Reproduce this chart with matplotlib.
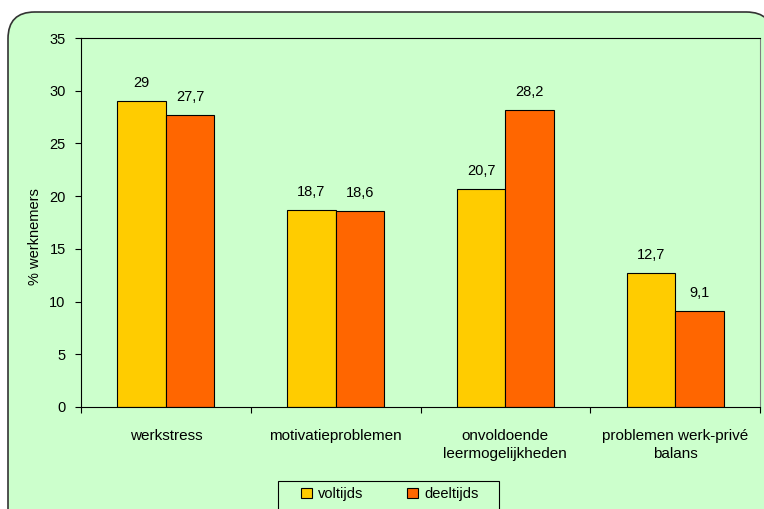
import numpy as np
import matplotlib.pyplot as plt
from matplotlib.patches import FancyBboxPatch, Rectangle

plt.rcParams['font.family'] = ['Liberation Sans', 'DejaVu Sans']

# gegevens
categorieen = ['werkstress', 'motivatieproblemen', 'onvoldoende\nleermogelijkheden',
               'problemen werk-privé\nbalans']
voltijds = [29, 18.7, 20.7, 12.7]
deeltijds = [27.7, 18.6, 28.2, 9.1]
labels_vol = ['29', '18,7', '20,7', '12,7']
labels_deel = ['27,7', '18,6', '28,2', '9,1']

groen = '#CCFFCC'
geel = '#FFCC00'
oranje = '#FF6600'
fs = 10.5

fig = plt.figure(figsize=(7.64, 5.09), dpi=100)
fig.patch.set_facecolor('white')

# afgeronde kader rond de grafiek (loopt rechts en onder door)
kader = FancyBboxPatch((8 / 764, -0.1), 773 / 764 - 8 / 764, 1 - 12 / 509 + 0.1,
                       boxstyle='round,pad=0,rounding_size=0.035',
                       transform=fig.transFigure, facecolor=groen,
                       edgecolor='#333333', linewidth=1.2, zorder=-10,
                       mutation_aspect=764 / 509)
fig.patches.append(kader)

ax = fig.add_axes([81 / 764, 1 - 407 / 509, 679 / 764, 369 / 509])
ax.set_facecolor(groen)

x = np.arange(len(categorieen))
w = 0.285
b1 = ax.bar(x - w / 2, voltijds, w, color=geel, edgecolor='black', linewidth=0.8,
            label='voltijds')
b2 = ax.bar(x + w / 2, deeltijds, w, color=oranje, edgecolor='black', linewidth=0.8,
            label='deeltijds')

for bars, teksten in [(b1, labels_vol), (b2, labels_deel)]:
    for rect, t in zip(bars, teksten):
        ax.annotate(t, (rect.get_x() + rect.get_width() / 2, rect.get_height()),
                    xytext=(0, 8), textcoords='offset points', ha='center',
                    va='bottom', fontsize=fs)

ax.set_xlim(-0.5, len(categorieen) - 0.5)
ax.set_ylim(0, 35)
ax.set_yticks(range(0, 36, 5))
ax.tick_params(axis='y', direction='out', length=4, labelsize=fs, pad=7)

# categorienamen tussen de streepjes
ax.set_xticks(np.arange(-0.5, len(categorieen), 1))
ax.set_xticklabels([])
ax.tick_params(axis='x', direction='out', length=4)
ax.set_xticks(x, minor=True)
ax.set_xticklabels(categorieen, minor=True, fontsize=11, linespacing=1.3)
ax.tick_params(axis='x', which='minor', length=0, pad=16)

ax.set_ylabel('% werknemers', fontsize=fs)
ax.yaxis.set_label_coords(-0.057, 0.463)

for s in ['left', 'bottom', 'top']:
    ax.spines[s].set_color('black')
ax.spines['right'].set_color('#808080')

# legendakader
fig.patches.append(Rectangle((278 / 764, -0.05), 221 / 764, 0.05 + 28 / 509,
                             transform=fig.transFigure, facecolor=groen,
                             edgecolor='black', linewidth=0.8, zorder=-5))
leg = fig.legend(loc='center', bbox_to_anchor=(390 / 764, 1 - 494 / 509), ncol=2,
                 fontsize=fs, frameon=False,
                 handlelength=0.75, handleheight=0.75, columnspacing=3.0,
                 handletextpad=0.4)

fig.savefig('out.png', dpi=100)
